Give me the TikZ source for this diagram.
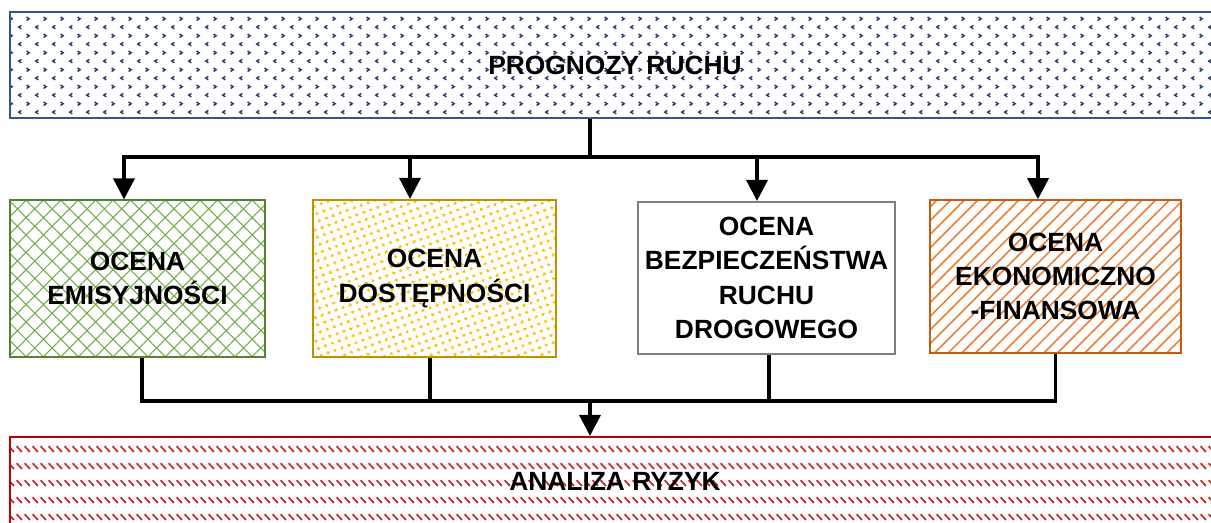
\documentclass[tikz,border=0pt]{standalone}
\usepackage{fontspec}
\setmainfont{Liberation Sans}
\usepackage{xcolor}
\usepackage{tikz}
\usetikzlibrary{patterns,patterns.meta,arrows.meta}

\definecolor{ruchblue}{HTML}{2F5597}
\definecolor{ruchdark}{HTML}{203864}
\definecolor{emigreen}{HTML}{548235}
\definecolor{emilight}{HTML}{70AD47}
\definecolor{dostgold}{HTML}{BF9000}
\definecolor{dostyellow}{HTML}{FFC000}
\definecolor{bezgray}{HTML}{7F7F7F}
\definecolor{ekobrown}{HTML}{C55A11}
\definecolor{ekoorange}{HTML}{ED7D31}
\definecolor{ryzred}{HTML}{C00000}

% small chevrons for the traffic box
\pgfdeclarepatternformonly{chevrons}{\pgfpointorigin}{\pgfqpoint{9.6pt}{9.6pt}}{\pgfqpoint{9.6pt}{9.6pt}}{
  \pgfsetlinewidth{0.8pt}
  \pgfpathmoveto{\pgfqpoint{5.5pt}{8.6pt}}\pgfpathlineto{\pgfqpoint{7pt}{7.6pt}}\pgfpathlineto{\pgfqpoint{5.5pt}{6.6pt}}
  \pgfpathmoveto{\pgfqpoint{2.5pt}{3.8pt}}\pgfpathlineto{\pgfqpoint{1pt}{2.8pt}}\pgfpathlineto{\pgfqpoint{2.5pt}{1.8pt}}
  \pgfusepath{stroke}}
% short diagonal ticks for the risk box
\pgfdeclarepatternformonly{ticks}{\pgfpointorigin}{\pgfqpoint{4.8pt}{9.6pt}}{\pgfqpoint{4.8pt}{9.6pt}}{
  \pgfsetlinewidth{1pt}
  \pgfpathmoveto{\pgfqpoint{0.4pt}{4.4pt}}\pgfpathlineto{\pgfqpoint{3.6pt}{1.2pt}}
  \pgfusepath{stroke}}

\begin{document}
\begin{tikzpicture}[
    font=\fontsize{15}{19.5}\selectfont\bfseries,
    every node/.style={rectangle, draw, line width=1.2pt, align=center, inner sep=2pt},
    bar/.style={line width=2pt},
    barrow/.style={line width=2pt, -{Triangle[width=12pt,length=12pt]}}
]
\clip (0,0) rectangle (24.22,10.44);

% top and bottom
\node[draw=ruchblue, pattern=chevrons, pattern color=ruchdark,
      minimum width=24.2cm, minimum height=2.12cm] (prog) at (12.3,9.14) {PROGNOZY RUCHU};
\node[draw=ryzred, pattern=ticks, pattern color=ryzred!85,
      minimum width=24.2cm, minimum height=1.76cm] (ryzyk) at (12.3,0.82) {ANALIZA RYZYK};

% four assessments
\node[draw=emigreen, pattern={Hatch[angle=45,distance=7pt,line width=0.6pt]}, pattern color=emilight,
      minimum width=5.1cm, minimum height=3.14cm] (emis) at (2.75,4.87) {OCENA\\EMISYJNOŚCI};
\node[draw=dostgold, pattern={Dots[distance=4pt,radius=1.1pt,angle=20]}, pattern color=dostyellow,
      minimum width=4.86cm, minimum height=3.14cm] (dost) at (8.69,4.87) {OCENA\\DOSTĘPNOŚCI};
\node[draw=bezgray, fill=white,
      minimum width=5.14cm, minimum height=3.04cm] (bezp) at (15.33,4.88) {OCENA\\BEZPIECZEŃSTWA\\RUCHU\\DROGOWEGO};
\node[draw=ekobrown, pattern={Lines[angle=45,distance=5.5pt,line width=0.9pt]}, pattern color=ekoorange,
      minimum width=5.02cm, minimum height=3.06cm] (eko) at (21.11,4.91) {OCENA\\EKONOMICZNO\\-FINANSOWA};

% split from the forecast
\coordinate (hub) at (11.8,7.3);
\draw[bar] (prog.south -| hub) -- (hub);
\draw[barrow] (hub) -| ([xshift=-0.27cm]emis.north);
\draw[barrow] (hub) -| ([xshift=-0.49cm]dost.north);
\draw[barrow] (hub) -| ([xshift=-0.19cm]bezp.north);
\draw[barrow] (hub) -| ([xshift=-0.35cm]eko.north);

% merge into the risk analysis
\coordinate (sink) at (11.8,2.42);
\draw[bar] ([xshift=0.09cm]emis.south) |- (sink);
\draw[bar] ([xshift=-0.09cm]dost.south) |- (sink);
\draw[bar] ([xshift=0.05cm]bezp.south) |- (sink);
\draw[bar] (eko.south) |- (sink);
\draw[barrow] (sink) -- (ryzyk.north -| sink);

\end{tikzpicture}
\end{document}
